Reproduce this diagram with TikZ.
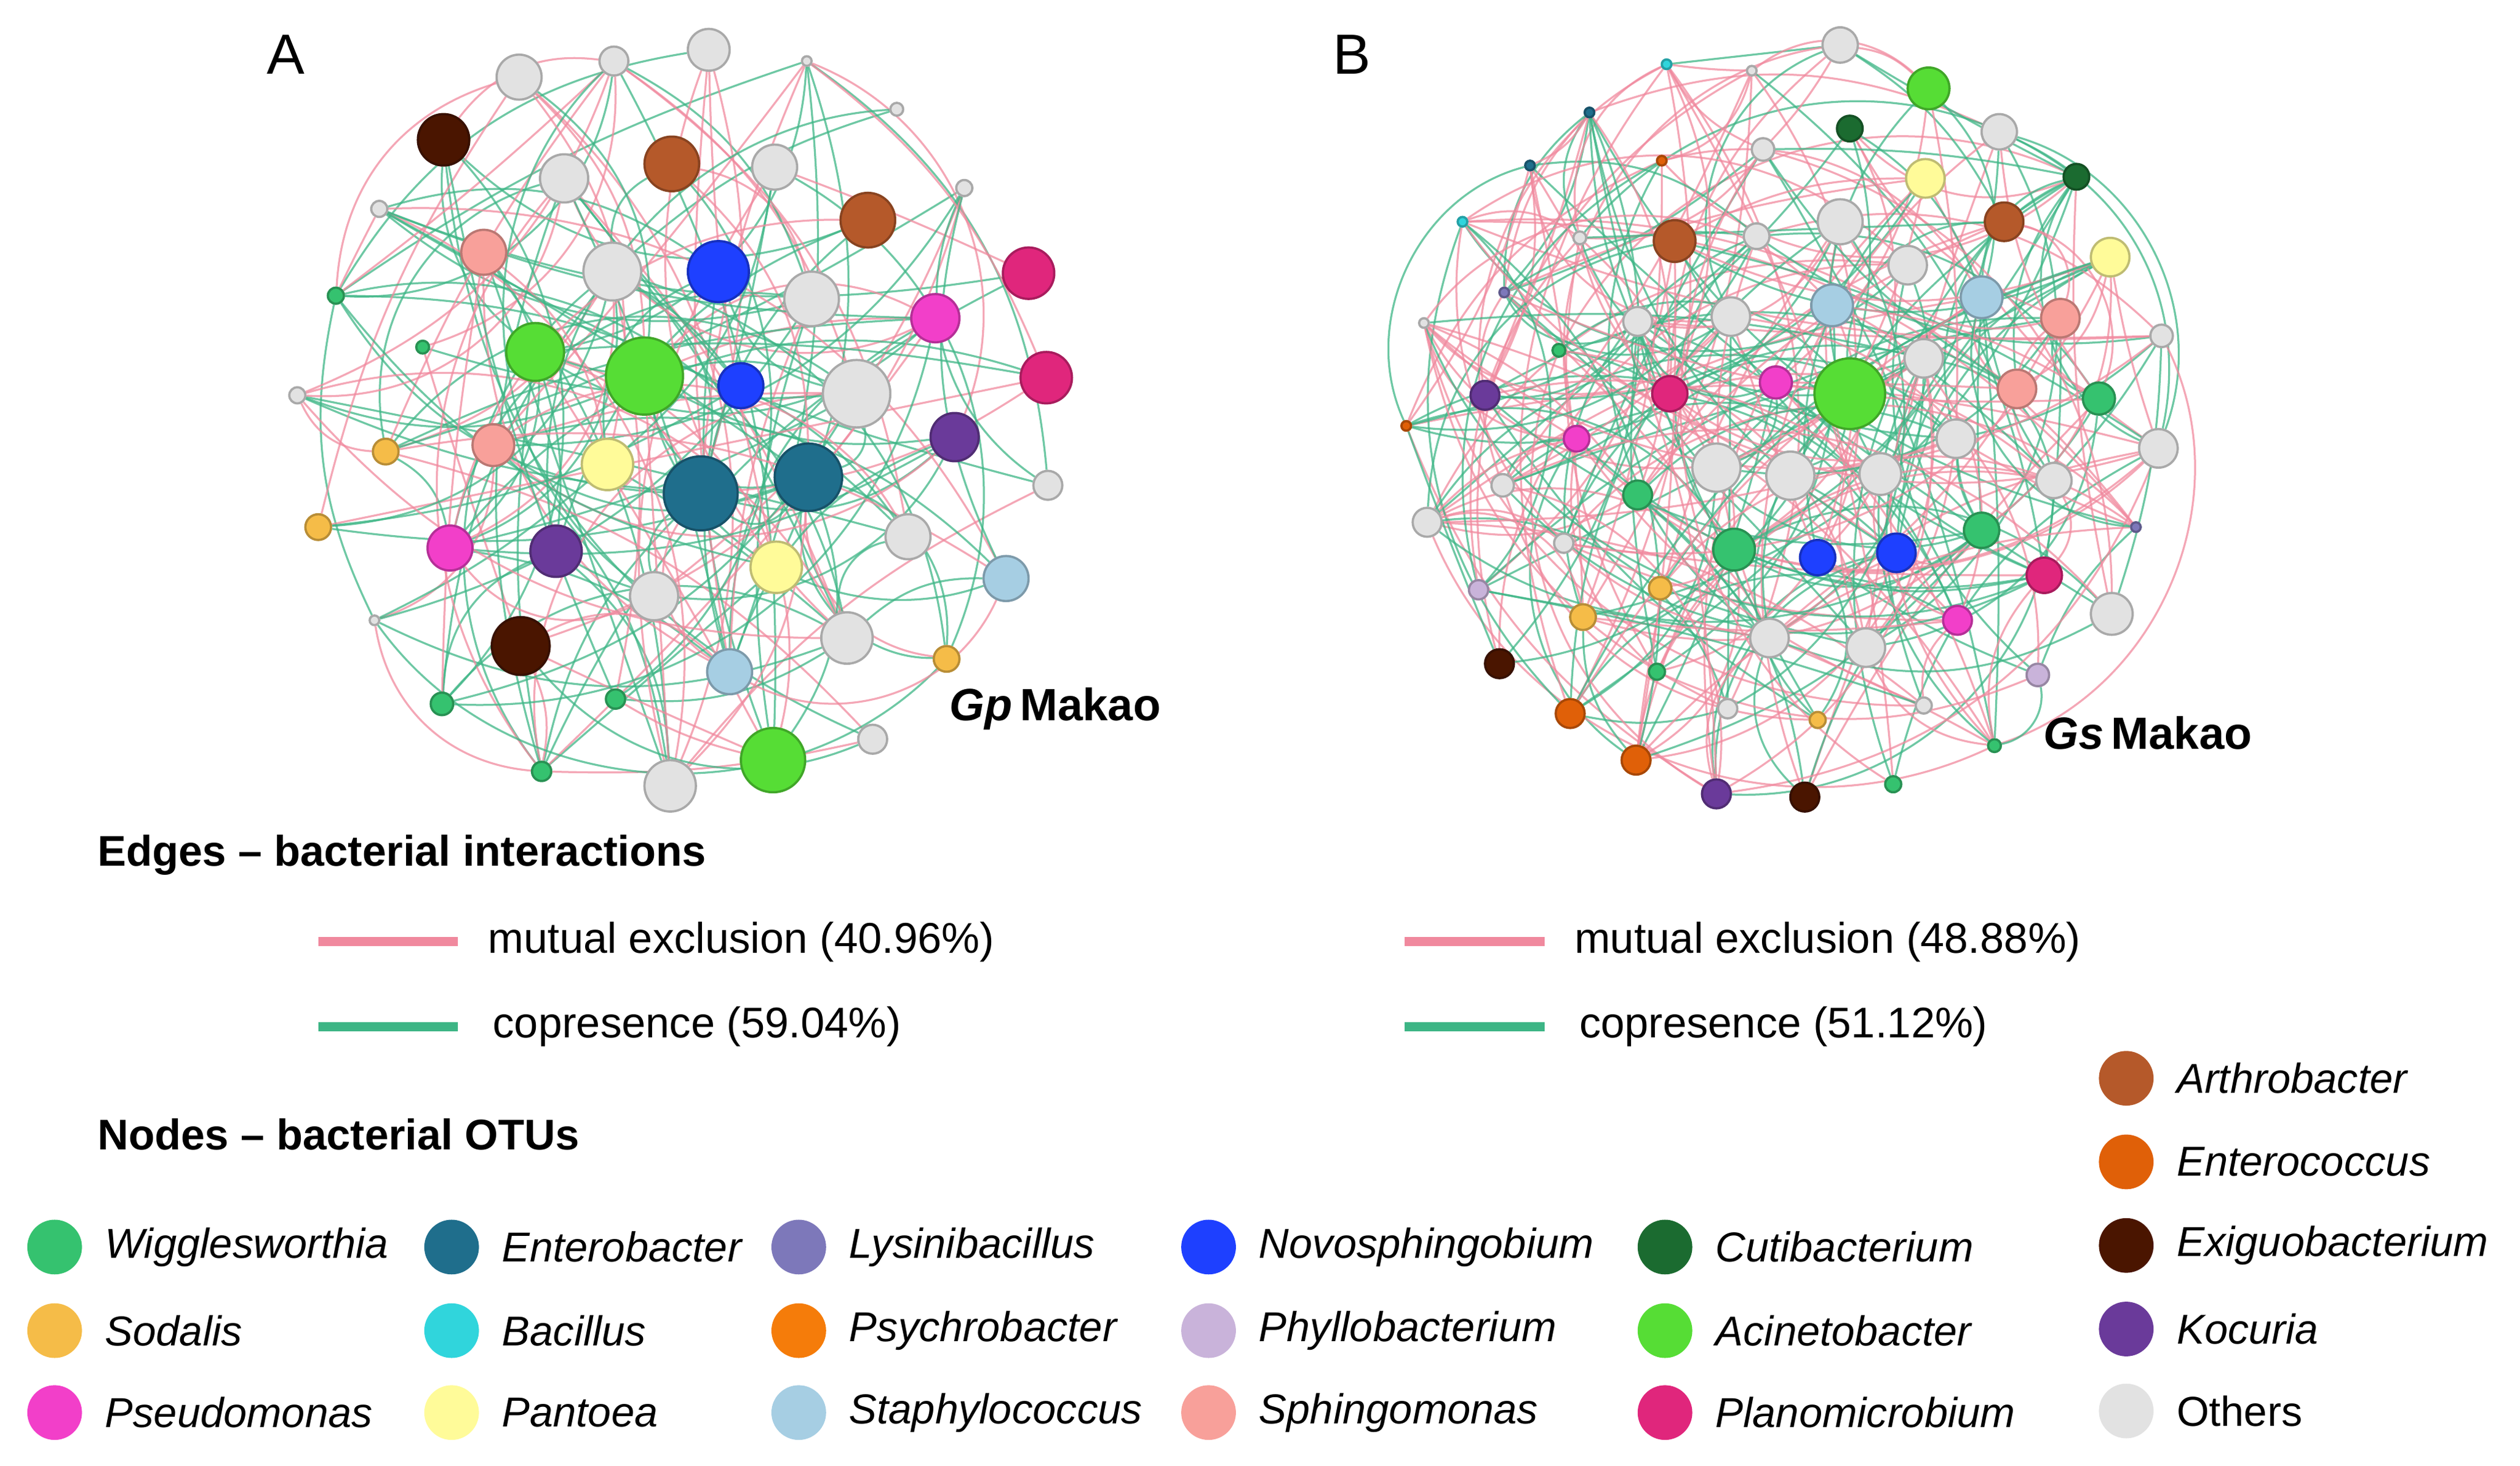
\documentclass[tikz,border=0pt]{standalone}
\usepackage{fontspec}
\setmainfont{Liberation Sans}
\usetikzlibrary{backgrounds,positioning}
\definecolor{cWig}{HTML}{35C26F}
\definecolor{cSod}{HTML}{F5BC48}
\definecolor{cPse}{HTML}{F23FC9}
\definecolor{cEnb}{HTML}{1F6E8C}
\definecolor{cBac}{HTML}{30D5DC}
\definecolor{cPan}{HTML}{FFFB99}
\definecolor{cLys}{HTML}{7D78BA}
\definecolor{cPsy}{HTML}{F57C0A}
\definecolor{cSta}{HTML}{A6CEE3}
\definecolor{cNov}{HTML}{1E40FF}
\definecolor{cPhy}{HTML}{C9B3DA}
\definecolor{cSph}{HTML}{F8A09A}
\definecolor{cCut}{HTML}{1B6B30}
\definecolor{cAci}{HTML}{56DD35}
\definecolor{cPla}{HTML}{E0267C}
\definecolor{cArt}{HTML}{B5592A}
\definecolor{cEnc}{HTML}{E06008}
\definecolor{cExi}{HTML}{4A1500}
\definecolor{cKoc}{HTML}{6A3A9A}
\definecolor{cOth}{HTML}{E2E2E2}
\definecolor{cMut}{HTML}{F0899E}
\definecolor{cCop}{HTML}{3DB585}
\tikzset{
  otu/.style={circle, inner sep=0pt, fill=#1, draw=#1!75!black, line width=0.4pt},
  excl/.style={draw=cMut, line width=0.35pt, opacity=0.75},
  copr/.style={draw=cCop, line width=0.35pt, opacity=0.75},
  lbl/.style={anchor=west, inner sep=0pt, font=\fontsize{7.6}{9}\selectfont},
  head/.style={anchor=west, inner sep=0pt, font=\fontsize{7.6}{9}\selectfont\bfseries},
  key/.style={otu=#1, draw=none, minimum size=0.34cm}
}
\begin{document}
\begin{tikzpicture}[x=0.01cm, y=-0.01cm]
  \useasboundingbox (0,0) rectangle (1568,912);
  \node[font=\fontsize{10}{11}\selectfont] (labA) at (178,34) {A};
  \node[font=\fontsize{10}{11}\selectfont] (labB) at (841,34) {B};

  % network A
  \foreach \x/\y/\r/\c [count=\n] in {323/48/14/cOth,382/38/9/cOth,441/31/13/cOth,502/38/3/cOth,276/87/16/cExi,
    418/102/17/cArt,351/111/15/cOth,482/104/14/cOth,540/137/17/cArt,600/117/5/cOth,558/68/4/cOth,236/130/5/cOth,
    301/157/14/cSph,381/169/18/cOth,447/169/19/cNov,505/186/17/cOth,582/198/15/cPse,640/170/16/cPla,209/184/5/cWig,
    263/216/4/cWig,333/219/18/cAci,401/234/24/cAci,461/240/14/cNov,533/245/21/cOth,651/235/16/cPla,185/246/5/cOth,
    240/281/8/cSod,307/277/13/cSph,378/289/16/cPan,436/307/23/cEnb,503/297/21/cEnb,594/272/15/cKoc,652/302/9/cOth,
    198/328/8/cSod,280/341/14/cPse,346/343/16/cKoc,483/353/16/cPan,565/334/14/cOth,626/360/14/cSta,233/386/3/cOth,
    407/371/15/cOth,324/402/18/cExi,527/397/16/cOth,454/418/14/cSta,589/410/8/cSod,275/438/7/cWig,383/435/6/cWig,
    543/460/9/cOth,337/480/6/cWig,417/489/16/cOth,481/473/20/cAci}
    \node[otu=\c, minimum size=2*\r*0.01cm] (a\n) at (\x,\y) {};

  % network B
  \foreach \x/\y/\r/\c [count=\n] in {1145/28/11/cOth,1200/55/13/cAci,1037/40/3/cBac,989/70/3/cEnb,1090/44/3/cOth,
    1151/80/8/cCut,1244/82/11/cOth,1034/100/3/cEnc,1097/93/7/cOth,1198/111/12/cPan,1292/110/8/cCut,952/103/3/cEnb,
    1042/150/13/cArt,1145/138/14/cOth,1247/138/12/cArt,1313/160/12/cPan,910/138/3/cBac,983/148/4/cOth,1093/147/8/cOth,
    1187/165/12/cOth,936/182/3/cLys,886/201/3/cOth,1019/200/9/cOth,1077/197/12/cOth,1140/190/13/cSta,1233/185/13/cSta,
    1282/198/12/cSph,1345/209/7/cOth,970/218/4/cWig,1197/223/12/cOth,1039/245/11/cPla,1105/238/10/cPse,1151/245/22/cAci,
    1255/242/12/cSph,1306/248/10/cWig,924/246/9/cKoc,875/265/3/cEnc,981/273/8/cPse,1217/273/12/cOth,1343/279/12/cOth,
    935/302/7/cOth,1068/291/15/cOth,1114/296/15/cOth,1170/295/13/cOth,1278/299/11/cOth,1019/308/9/cWig,888/325/9/cOth,
    1329/328/3/cLys,973/338/6/cOth,1233/330/11/cWig,1079/342/13/cWig,1131/347/11/cNov,1180/344/12/cNov,1033/366/7/cSod,
    920/367/6/cPhy,1272/358/11/cPla,985/384/8/cSod,1218/386/9/cPse,1314/382/13/cOth,1101/397/12/cOth,1161/403/12/cOth,
    933/413/9/cExi,1031/418/5/cWig,1268/420/7/cPhy,1075/441/6/cOth,1197/439/5/cOth,1131/448/5/cSod,977/444/9/cEnc,
    1241/464/4/cWig,1018/473/9/cEnc,1068/494/9/cKoc,1123/496/9/cExi,1178/488/5/cWig}
    \node[otu=\c, minimum size=2*\r*0.01cm] (b\n) at (\x,\y) {};

  % interactions
  \pgfmathsetseed{42}
  \begin{pgfonlayer}{background}
    \foreach \k in {1,...,190}{
      \pgfmathtruncatemacro\i{random(1,51)}
      \pgfmathtruncatemacro\j{random(1,51)}
      \pgfmathtruncatemacro\g{random(1,100)<60 ? 1 : 0}
      \pgfmathtruncatemacro\bb{random(-50,50)}
      \ifnum\i=\j\else
        \ifnum\g=1 \draw[copr] (a\i) to[bend left=\bb] (a\j);
        \else \draw[excl] (a\i) to[bend left=\bb] (a\j); \fi
      \fi
    }
    \foreach \k in {1,...,330}{
      \pgfmathtruncatemacro\i{random(1,73)}
      \pgfmathtruncatemacro\j{random(1,73)}
      \pgfmathtruncatemacro\g{random(1,100)<52 ? 1 : 0}
      \pgfmathtruncatemacro\bb{random(-50,50)}
      \ifnum\i=\j\else
        \ifnum\g=1 \draw[copr] (b\i) to[bend left=\bb] (b\j);
        \else \draw[excl] (b\i) to[bend left=\bb] (b\j); \fi
      \fi
    }
  \end{pgfonlayer}

  \node[anchor=east, inner sep=0pt, font=\fontsize{8}{9}\selectfont\bfseries] (tA) at (723,441) {\textit{Gp}\,Makao};
  \node[anchor=east, inner sep=0pt, font=\fontsize{8}{9}\selectfont\bfseries] (tB) at (1402,456) {\textit{Gs}\,Makao};

  % legend: edges
  \node[head] (hE) at (60,532) {Edges -- bacterial interactions};
  \coordinate (m1) at (198,586); \coordinate (m2) at (285,586);
  \coordinate (c1) at (198,639); \coordinate (c2) at (285,639);
  \draw[cMut, line width=1.6pt] (m1) -- (m2);
  \draw[cCop, line width=1.6pt] (c1) -- (c2);
  \node[lbl] (tm1) at (303,586) {mutual exclusion (40.96\%)};
  \node[lbl] (tc1) at (306,639) {copresence (59.04\%)};
  \coordinate (m3) at (874,586); \coordinate (m4) at (961,586);
  \coordinate (c3) at (874,639); \coordinate (c4) at (961,639);
  \draw[cMut, line width=1.6pt] (m3) -- (m4);
  \draw[cCop, line width=1.6pt] (c3) -- (c4);
  \node[lbl] (tm2) at (979,586) {mutual exclusion (48.88\%)};
  \node[lbl] (tc2) at (982,639) {copresence (51.12\%)};

  % legend: nodes
  \node[head] (hN) at (60,706) {Nodes -- bacterial OTUs};
  \foreach \x/\y/\c/\t [count=\n] in {34/776/cWig/Wigglesworthia,34/828/cSod/Sodalis,34/879/cPse/Pseudomonas,
    281/776/cEnb/Enterobacter,281/828/cBac/Bacillus,281/879/cPan/Pantoea,
    497/776/cLys/Lysinibacillus,497/828/cPsy/Psychrobacter,497/879/cSta/Staphylococcus,
    752/776/cNov/Novosphingobium,752/828/cPhy/Phyllobacterium,752/879/cSph/Sphingomonas,
    1036/776/cCut/Cutibacterium,1036/828/cAci/Acinetobacter,1036/879/cPla/Planomicrobium,
    1323/671/cArt/Arthrobacter,1323/723/cEnc/Enterococcus,1323/775/cExi/Exiguobacterium,
    1323/827/cKoc/Kocuria,1323/878/cOth/Others}{
    \node[key=\c] (k\n) at (\x,\y) {};
    \node[lbl, right=0.13cm of k\n, font=\fontsize{7.4}{9}\selectfont\itshape] (kt\n) {\ifnum\n=20 \upshape\fi\t};
  }
\end{tikzpicture}
\end{document}
